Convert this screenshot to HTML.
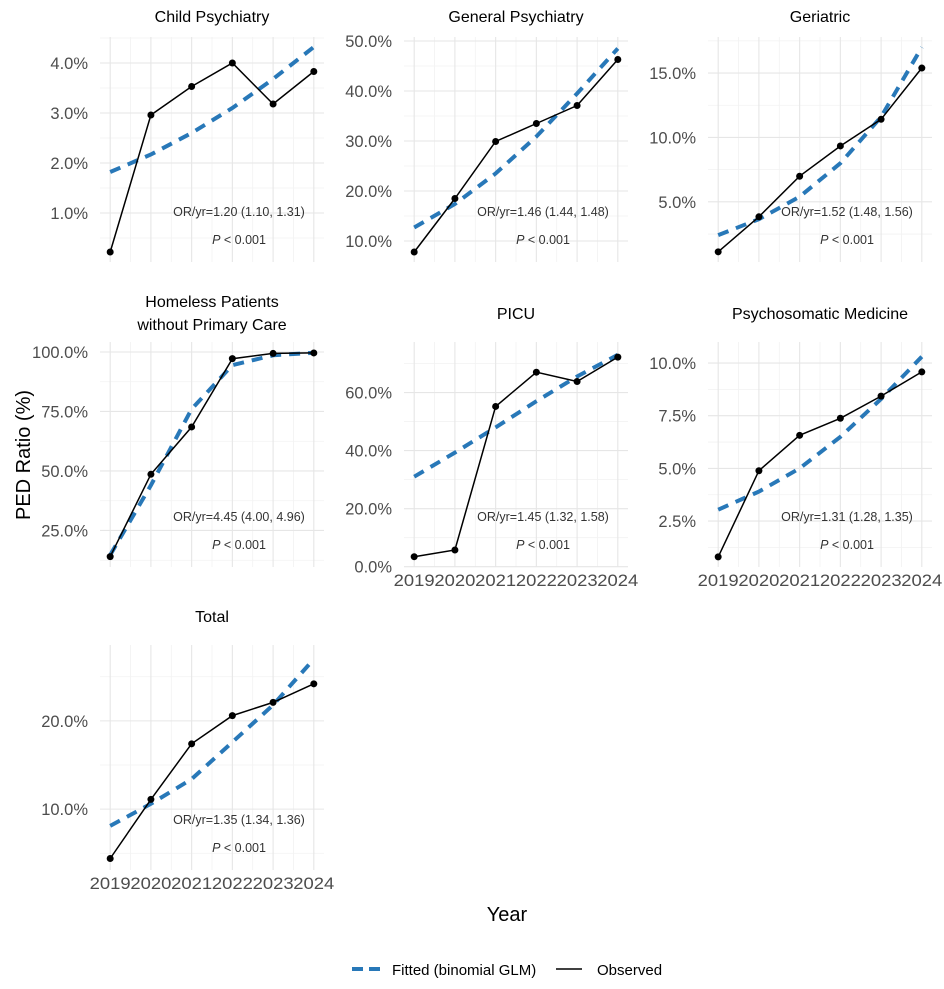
<!DOCTYPE html>
<html><head><meta charset="utf-8"><style>
body{margin:0;background:#fff;}
svg{display:block;font-family:"Liberation Sans",Arial,sans-serif;}
</style></head><body>
<svg id="chart" width="944" height="989" viewBox="0 0 944 989">
<text x="30" y="455" font-size="20" fill="#000" text-anchor="middle" transform="rotate(-90 30 455)">PED Ratio (%)</text>
<text x="507" y="921" font-size="20" fill="#000" text-anchor="middle">Year</text>
<g>
<line x1="352" y1="969" x2="380" y2="969" stroke="#2878b8" stroke-width="4" stroke-dasharray="11,6"/>
<text x="392" y="975" font-size="15" fill="#000">Fitted (binomial GLM)</text>
<line x1="556" y1="969" x2="582" y2="969" stroke="#000" stroke-width="1.5"/>
<text x="597" y="975" font-size="15" fill="#000">Observed</text>
</g>
</svg>
<script>
const years = [2019, 2020, 2021, 2022, 2023, 2024];
const yearLabels = ["2019","2020","2021","2022","2023","2024"];

const childObs = [0.22, 2.96, 3.53, 4.0, 3.18, 3.83];
const childFit = [1.82, 2.17, 2.6, 3.1, 3.68, 4.32];
const childTicks = [1, 2, 3, 4];
const childTickLabels = ["1.0%","2.0%","3.0%","4.0%"];

const generalObs = [7.8, 18.5, 29.9, 33.5, 37.1, 46.3];
const generalFit = [12.7, 17.4, 23.5, 30.9, 39.5, 48.5];
const generalTicks = [10, 20, 30, 40, 50];
const generalTickLabels = ["10.0%","20.0%","30.0%","40.0%","50.0%"];

const geriatricObs = [1.12, 3.84, 6.99, 9.34, 11.41, 15.39];
const geriatricFit = [2.42, 3.65, 5.4, 8.0, 11.6, 17.0];
const geriatricTicks = [5, 10, 15];
const geriatricTickLabels = ["5.0%","10.0%","15.0%"];

const homelessObs = [14.0, 48.6, 68.5, 97.2, 99.4, 99.6];
const homelessFit = [14.7, 44, 76, 94.5, 98.6, 99.7];
const homelessTicks = [25, 50, 75, 100];
const homelessTickLabels = ["25.0%","50.0%","75.0%","100.0%"];

const picuObs = [3.45, 5.75, 55.2, 67.0, 63.8, 72.2];
const picuFit = [31, 39.3, 48, 57, 65.5, 73];
const picuTicks = [0, 20, 40, 60];
const picuTickLabels = ["0.0%","20.0%","40.0%","60.0%"];

const psychoObs = [0.80, 4.89, 6.57, 7.38, 8.43, 9.58];
const psychoFit = [3.04, 3.9, 5.0, 6.5, 8.3, 10.3];
const psychoTicks = [2.5, 5, 7.5, 10];
const psychoTickLabels = ["2.5%","5.0%","7.5%","10.0%"];

const totalObs = [4.4, 11.1, 17.4, 20.6, 22.1, 24.2];
const totalFit = [8.1, 10.6, 13.4, 17.6, 21.8, 27.0];
const totalTicks = [10, 20];
const totalTickLabels = ["10.0%","20.0%"];

const panels = [
 {key:"child", title:["Child Psychiatry"], col:0,row:0, dom:[0.02,4.52], obs:childObs, fit:childFit, ticks:childTicks, labels:childTickLabels, step:1, or:"OR/yr=1.20 (1.10, 1.31)", xl:false},
 {key:"general", title:["General Psychiatry"], col:1,row:0, dom:[5.8,50.8], obs:generalObs, fit:generalFit, ticks:generalTicks, labels:generalTickLabels, step:10, or:"OR/yr=1.46 (1.44, 1.48)", xl:false},
 {key:"geriatric", title:["Geriatric"], col:2,row:0, dom:[0.33,17.8], obs:geriatricObs, fit:geriatricFit, ticks:geriatricTicks, labels:geriatricTickLabels, step:5, or:"OR/yr=1.52 (1.48, 1.56)", xl:false},
 {key:"homeless", title:["Homeless Patients","without Primary Care"], col:0,row:1, dom:[9.65,104.2], obs:homelessObs, fit:homelessFit, ticks:homelessTicks, labels:homelessTickLabels, step:25, or:"OR/yr=4.45 (4.00, 4.96)", xl:false},
 {key:"picu", title:["PICU"], col:1,row:1, dom:[-0.1,77.4], obs:picuObs, fit:picuFit, ticks:picuTicks, labels:picuTickLabels, step:20, or:"OR/yr=1.45 (1.32, 1.58)", xl:true},
 {key:"psychosomatic", title:["Psychosomatic Medicine"], col:2,row:1, dom:[0.32,11.0], obs:psychoObs, fit:psychoFit, ticks:psychoTicks, labels:psychoTickLabels, step:2.5, or:"OR/yr=1.31 (1.28, 1.35)", xl:true},
 {key:"total", title:["Total"], col:0,row:2, dom:[3.1,28.6], obs:totalObs, fit:totalFit, ticks:totalTicks, labels:totalTickLabels, step:10, or:"OR/yr=1.35 (1.34, 1.36)", xl:true}
];

const colX = [100, 404, 708];
const rowY = [37, 342, 645];
const PW = 224, PH = 225;
const NS = "http://www.w3.org/2000/svg";
const svg = document.getElementById("chart");
function mk(tag, attrs, parent){
  const e = document.createElementNS(NS, tag);
  for (const k in attrs) e.setAttribute(k, attrs[k]);
  parent.appendChild(e);
  return e;
}
panels.forEach(p => {
  const x0 = colX[p.col], y0 = rowY[p.row];
  const xs = v => x0 + (v - 2018.75) / 5.5 * PW;
  const ys = v => y0 + PH - (v - p.dom[0]) / (p.dom[1] - p.dom[0]) * PH;
  const g = mk("g", {}, svg);
  
  
  const first = p.ticks[0] - p.step / 2;
  for (let m = first - p.step * 3; m <= p.dom[1]; m += p.step) {
    if (m < p.dom[0]) continue;
    const l = mk("line", {x1:x0, x2:x0+PW, y1:ys(m), y2:ys(m), stroke:"#f2f2f2", "stroke-width":0.8}, g);
    
    
  }
  years.forEach((yr, i) => {
    if (i < years.length - 1) {
      const l = mk("line", {x1:xs(yr+0.5), x2:xs(yr+0.5), y1:y0, y2:y0+PH, stroke:"#f2f2f2", "stroke-width":0.8}, g);
      
      
    }
  });
  p.ticks.forEach((t, i) => {
    const l = mk("line", {x1:x0, x2:x0+PW, y1:ys(t), y2:ys(t), stroke:"#e6e6e6", "stroke-width":1.1}, g);
    
    
    const tx = mk("text", {x:x0-12, y:ys(t)+6, "font-size":16.5, fill:"#4d4d4d", "text-anchor":"end"}, g);
    
    
    tx.textContent = p.labels[i];
  });
  years.forEach((yr, i) => {
    const l = mk("line", {x1:xs(yr), x2:xs(yr), y1:y0, y2:y0+PH, stroke:"#e6e6e6", "stroke-width":1.1}, g);
    
    
    if (p.xl) {
      const tx = mk("text", {x:xs(yr)-20.5, y:y0+PH+19, "font-size":17, fill:"#4d4d4d", textLength:41, lengthAdjust:"spacingAndGlyphs"}, g);
      
      
      tx.textContent = yearLabels[i];
    }
  });
  const tl = p.title.length;
  p.title.forEach((s, i) => {
    const ty = tl === 1 ? (p.row === 0 ? y0 - 15 : y0 - 23) : y0 - 35 + i * 23;
    const tx = mk("text", {x:x0+PW/2, y:ty, "font-size":16, fill:"#000", "text-anchor":"middle"}, g);
    
    
    tx.textContent = s;
  });
  const fd = p.fit.map((v, i) => (i ? "L" : "M") + xs(years[i]).toFixed(1) + "," + ys(v).toFixed(1)).join("");
  const fp = mk("path", {d:fd, fill:"none", stroke:"#2878b8", "stroke-width":4, "stroke-dasharray":"11,8"}, g);
  
  
  const od = p.obs.map((v, i) => (i ? "L" : "M") + xs(years[i]).toFixed(1) + "," + ys(v).toFixed(1)).join("");
  const op = mk("path", {d:od, fill:"none", stroke:"#000", "stroke-width":1.5}, g);
  
  
  p.obs.forEach((v, i) => {
    const c = mk("circle", {cx:xs(years[i]), cy:ys(v), r:3.5, fill:"#000"}, g);
    
    
  });
  const a1 = mk("text", {x:x0+139, y:y0+PH-46, "font-size":12.5, fill:"#333", "text-anchor":"middle"}, g);
  
  
  a1.textContent = p.or;
  const a2 = mk("text", {x:x0+139, y:y0+PH-18, "font-size":12.5, fill:"#333", "text-anchor":"middle"}, g);
  
  
  a2.innerHTML = '<tspan font-style="italic">P</tspan> &lt; 0.001';
});
</script>
</body></html>
